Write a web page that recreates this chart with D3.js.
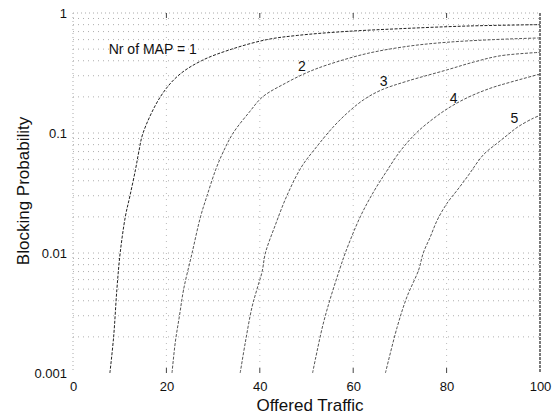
<!DOCTYPE html>
<html>
<head>
  <meta charset="utf-8">
  <script src="https://d3js.org/d3.v7.min.js"></script>
  <style>
    body { margin: 0; background: #fff; }
    text { font-family: Arial, "Liberation Sans", sans-serif; fill: #111; }
  </style>
</head>
<body>
<script>
// traffic / blocking pairs, one pair of arrays per curve
var map1Traffic = [7.9, 8.7, 9.4, 10.1, 11.2, 12.2, 13.4, 14.1, 15.0, 18.7, 22.5, 27.5, 34, 41.5, 48, 58, 70, 85, 100];
var map1Block   = [0.001, 0.002, 0.005, 0.01, 0.02, 0.03, 0.05, 0.07, 0.1, 0.2, 0.3, 0.4, 0.5, 0.6, 0.65, 0.7, 0.74, 0.78, 0.8];

var map2Traffic = [21.2, 21.9, 22.8, 23.7, 25.5, 27.3, 28.7, 30.6, 32.2, 34.3, 37.8, 40.6, 45.5, 50.2, 54.5, 63, 72, 80, 90, 100];
var map2Block   = [0.001, 0.0018, 0.003, 0.005, 0.01, 0.02, 0.03, 0.05, 0.07, 0.1, 0.15, 0.2, 0.26, 0.32, 0.37, 0.46, 0.53, 0.57, 0.6, 0.62];

var map3Traffic = [35.8, 36.9, 38.3, 39.4, 40.5, 41.2, 43.3, 45.8, 48.9, 52.2, 55.7, 59, 62.3, 66, 71.5, 80, 85.8, 91.5, 100];
var map3Block   = [0.001, 0.0018, 0.0035, 0.005, 0.007, 0.01, 0.017, 0.03, 0.052, 0.077, 0.112, 0.15, 0.19, 0.228, 0.27, 0.335, 0.39, 0.44, 0.47];

var map4Traffic = [51.3, 51.9, 53.5, 55.2, 57.2, 58.3, 61.5, 64.5, 67, 70, 73.5, 77.3, 80.8, 84.8, 89.5, 93.8, 100];
var map4Block   = [0.001, 0.0013, 0.0025, 0.0043, 0.0075, 0.01, 0.02, 0.033, 0.047, 0.07, 0.1, 0.133, 0.165, 0.2, 0.237, 0.266, 0.31];

var map5Traffic = [66.9, 69.4, 71.5, 74, 75, 76.5, 78, 80.1, 82.3, 84.4, 87.9, 90.8, 93, 95.2, 98.6, 100];
var map5Block   = [0.001, 0.0024, 0.0043, 0.0072, 0.01, 0.0136, 0.0188, 0.026, 0.0335, 0.043, 0.066, 0.082, 0.096, 0.112, 0.133, 0.14];

var xTicks = [0, 20, 40, 60, 80, 100];
var yTicks = [0.001, 0.01, 0.1, 1];
var yTickLabels = ["0.001", "0.01", "0.1", "1"];

// curve labels: text, traffic, blocking
var curveLabels = [
  ["Nr of MAP = 1", 26.5, 0.5],
  ["2", 49, 0.36],
  ["3", 66.5, 0.27],
  ["4", 81.5, 0.195],
  ["5", 94.5, 0.133]
];

var width = 560, height = 419;
var margin = {top: 13, right: 20, bottom: 46, left: 73};

var svg = d3.select("body").append("svg")
  .attr("width", width)
  .attr("height", height);

var x = d3.scaleLinear().domain([0, 100]).range([margin.left, width - margin.right]);
var y = d3.scaleLog().domain([0.001, 1]).range([height - margin.bottom, margin.top]);

// grid
var minor = [];
[0.001, 0.01, 0.1].forEach(function(d) {
  for (var k = 1; k <= 9; k++) minor.push(d * k);
});

svg.append("g").selectAll("line")
  .data(minor.filter(function(d) { return d > 0.001; }))
  .enter().append("line")
    .attr("x1", x(0)).attr("x2", x(100))
    .attr("y1", function(d) { return y(d); })
    .attr("y2", function(d) { return y(d); })
    .attr("stroke", "#999")
    .attr("stroke-width", 0.8)
    .attr("stroke-dasharray", "1,4");

svg.append("g").selectAll("line")
  .data([20, 40, 60, 80])
  .enter().append("line")
    .attr("x1", function(d) { return x(d); })
    .attr("x2", function(d) { return x(d); })
    .attr("y1", y(1)).attr("y2", y(0.001))
    .attr("stroke", "#aaa")
    .attr("stroke-width", 0.8)
    .attr("stroke-dasharray", "1,5");

// box: faint dotted left/top, darker right edge
svg.append("line")
  .attr("x1", x(0)).attr("x2", x(0)).attr("y1", y(1)).attr("y2", y(0.001))
  .attr("stroke", "#aaa").attr("stroke-dasharray", "1,3");
svg.append("line")
  .attr("x1", x(0)).attr("x2", x(100)).attr("y1", y(1)).attr("y2", y(1))
  .attr("stroke", "#aaa").attr("stroke-dasharray", "1,3");
svg.append("line")
  .attr("x1", x(100)).attr("x2", x(100)).attr("y1", y(1)).attr("y2", y(0.001))
  .attr("stroke", "#222").attr("stroke-width", 1.2).attr("stroke-dasharray", "3,1");

// little ticks at top and bottom
svg.append("g").selectAll("line")
  .data([20, 40, 60, 80])
  .enter().append("line")
    .attr("x1", function(d) { return x(d); })
    .attr("x2", function(d) { return x(d); })
    .attr("y1", y(0.001) - 5).attr("y2", y(0.001))
    .attr("stroke", "#444");
svg.append("g").selectAll("line")
  .data([20, 40, 60, 80])
  .enter().append("line")
    .attr("x1", function(d) { return x(d); })
    .attr("x2", function(d) { return x(d); })
    .attr("y1", y(1)).attr("y2", y(1) + 5)
    .attr("stroke", "#444");

// axes
var xAxis = svg.append("g")
  .attr("transform", "translate(0," + y(0.001) + ")")
  .call(d3.axisBottom(x).tickValues(xTicks).tickSize(0).tickPadding(9));
xAxis.select(".domain").remove();
xAxis.selectAll("text").style("font-size", "13px").style("font-family", "Arial, 'Liberation Sans', sans-serif");

var yAxis = svg.append("g")
  .attr("transform", "translate(" + x(0) + ",0)")
  .call(d3.axisLeft(y).tickValues(yTicks).tickSize(0).tickPadding(6)
    .tickFormat(function(d, i) { return yTickLabels[i]; }));
yAxis.select(".domain").remove();
yAxis.selectAll("text").style("font-size", "13px").style("font-family", "Arial, 'Liberation Sans', sans-serif");

// curves
var series = [
  [map1Traffic, map1Block],
  [map2Traffic, map2Block],
  [map3Traffic, map3Block],
  [map4Traffic, map4Block],
  [map5Traffic, map5Block]
];

var line = d3.line()
  .x(function(d) { return x(d[0]); })
  .y(function(d) { return y(d[1]); })
  .curve(d3.curveCatmullRom.alpha(0.5));

series.forEach(function(s, i) {
  var pts = s[0].map(function(t, j) { return [t, s[1][j]]; });
  svg.append("path")
    .datum(pts)
    .attr("fill", "none")
    .attr("stroke", i == 0 ? "#222" : "#555")
    .attr("stroke-width", 1)
    .attr("stroke-dasharray", "3,1.5")
    .attr("d", line);
});

// curve labels
svg.append("g").selectAll("text")
  .data(curveLabels)
  .enter().append("text")
    .attr("x", function(d) { return x(d[1]); })
    .attr("y", function(d) { return y(d[2]); })
    .attr("text-anchor", function(d, i) { return i == 0 ? "end" : "middle"; })
    .attr("dy", "0.35em")
    .style("font-size", "14px")
    .text(function(d) { return d[0]; });

// axis titles
svg.append("text")
  .attr("x", 310)
  .attr("y", 411)
  .attr("text-anchor", "middle")
  .style("font-size", "17px")
  .text("Offered Traffic");

svg.append("text")
  .attr("transform", "translate(29,191) rotate(-90)")
  .attr("text-anchor", "middle")
  .style("font-size", "17px")
  .text("Blocking Probability");
</script>
</body>
</html>
